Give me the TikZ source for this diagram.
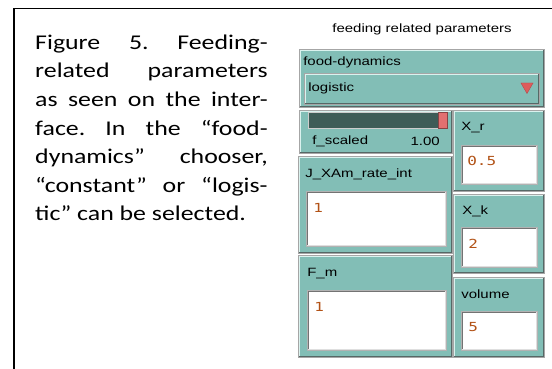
\documentclass[tikz,border=0pt]{standalone}
\usepackage{fontspec}
\setmainfont{Carlito}
\newfontfamily\guifont{Liberation Sans}
\newfontfamily\valfont{DejaVu Sans Mono}
\usetikzlibrary{shapes.geometric}
\frenchspacing

\definecolor{panel}{RGB}{130,190,182}
\definecolor{litedge}{RGB}{218,242,238}
\definecolor{darkedge}{RGB}{86,104,102}
\definecolor{track}{RGB}{62,92,87}
\definecolor{knobcol}{RGB}{226,112,112}
\definecolor{valuecol}{RGB}{178,82,22}
\definecolor{dropcol}{RGB}{222,92,92}

\tikzset{
  widget/.style={fill=panel, draw=gray!70, line width=0.6pt, inner sep=0, anchor=north west,
    path picture={
      \draw[litedge, line width=3.5pt] (path picture bounding box.south west) -- (path picture bounding box.north west) -- (path picture bounding box.north east);
      \draw[darkedge, line width=3pt] (path picture bounding box.north east) -- (path picture bounding box.south east) -- (path picture bounding box.south west);}},
  field/.style={fill=white, draw=gray!60, line width=0.6pt, inner sep=0, anchor=north west,
    path picture={
      \draw[gray!90!black, line width=3.5pt] (path picture bounding box.south west) -- (path picture bounding box.north west) -- (path picture bounding box.north east);
      \draw[gray!25, line width=3pt] (path picture bounding box.north east) -- (path picture bounding box.south east) -- (path picture bounding box.south west);}},
  gui/.style={font=\guifont\fontsize{12}{14}\selectfont, inner sep=0, xscale=1.25, anchor=west},
  value/.style={font=\valfont\fontsize{12.5}{14}\selectfont, text=valuecol, inner sep=0, xscale=1.28, anchor=west},
  caption/.style={font=\fontsize{21}{28.6}\selectfont, text width=189pt, align=justify, inner sep=0, xscale=1.23, anchor=north west},
}

\begin{document}
\begin{tikzpicture}[x=1pt, y=-1pt]
\useasboundingbox (0,0) rectangle (552,369);
\draw[line width=1.6pt] (14,369) -- (14,8.5) -- (552,8.5);

\node[caption] (capt) at (35,34.5) {Figure 5. Feeding-\linebreak related parameters\linebreak as seen on the inter-\linebreak face. In the “food-\linebreak dynamics” chooser,\linebreak “constant” or “logis-\linebreak tic” can be selected.};

\node[gui, anchor=center] (title) at (422,29) {feeding related parameters};

\node[widget, minimum width=245pt, minimum height=58pt] (chooser) at (299,49) {};
\node[gui] (chooserlbl) at (303,62.5) {food-dynamics};
\node[widget, minimum width=235pt, minimum height=31pt] (dropdown) at (304,73) {};
\node[gui] (choice) at (308,88.5) {logistic};
\node[regular polygon, regular polygon sides=3, shape border rotate=180, fill=dropcol, draw=dropcol!80!black, line width=0.4pt, minimum size=14pt, inner sep=0] (droparrow) at (527,86.5) {};

\node[widget, minimum width=153pt, minimum height=43pt] (slider) at (299,110) {};
\node[fill=track, draw=gray!40, line width=0.6pt, minimum width=139pt, minimum height=16pt, inner sep=0, anchor=north west] (track) at (308,112) {};
\node[fill=knobcol, draw=knobcol!60!black, line width=0.5pt, minimum width=9pt, minimum height=16pt, inner sep=0, anchor=north west] (knob) at (438,112) {};
\node[gui] (sliderlbl) at (312,141) {f\_scaled};
\node[gui, anchor=east] (sliderval) at (440,141) {1.00};

\node[widget, minimum width=91pt, minimum height=81pt] (xr) at (453,110) {};
\node[gui] (xrlbl) at (461,128) {X\_r};
\node[field, minimum width=76pt, minimum height=39pt] (xrin) at (461,145) {};
\node[value] (xrval) at (467,161) {0.5};

\node[widget, minimum width=154pt, minimum height=97pt] (jx) at (298,156) {};
\node[gui] (jxlbl) at (305,174) {J\_XAm\_rate\_int};
\node[field, minimum width=140pt, minimum height=55pt] (jxin) at (306,191) {};
\node[value] (jxval) at (313,207.5) {1};

\node[widget, minimum width=91pt, minimum height=79pt] (xk) at (453,194) {};
\node[gui] (xklbl) at (462,211) {X\_k};
\node[field, minimum width=76pt, minimum height=40pt] (xkin) at (461,227) {};
\node[value] (xkval) at (468,244) {2};

\node[widget, minimum width=154pt, minimum height=102pt] (fm) at (298,255) {};
\node[gui] (fmlbl) at (307,273.5) {F\_m};
\node[field, minimum width=139pt, minimum height=60pt] (fmin) at (307,290) {};
\node[value] (fmval) at (314,306.5) {1};

\node[widget, minimum width=91pt, minimum height=80pt] (vol) at (453,277) {};
\node[gui] (vollbl) at (461,294) {volume};
\node[field, minimum width=76pt, minimum height=39pt] (volin) at (461,311) {};
\node[value] (volval) at (468,327) {5};
\end{tikzpicture}
\end{document}
